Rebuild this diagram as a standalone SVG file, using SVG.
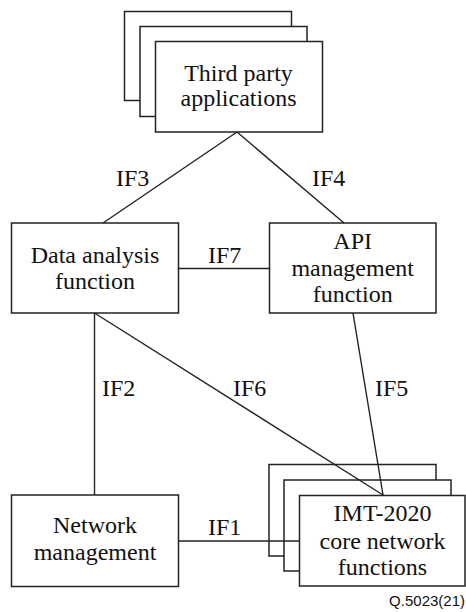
<svg xmlns="http://www.w3.org/2000/svg" width="466" height="612" viewBox="0 0 466 612">
<style>
.box{fill:#fff;stroke:#222;stroke-width:1.5}
.ln{stroke:#222;stroke-width:1.4;fill:none}
.t{font-size:24px;fill:#111;text-anchor:middle}
.lbl{font-size:24px;fill:#111}
.ref{font-size:15px;fill:#111;text-anchor:end}
</style>
<rect width="466" height="612" fill="#fff"/>
<g font-family="'Liberation Serif', 'Times New Roman', Tinos, 'DejaVu Serif', serif">
<g id="third-party">
<rect class="box" x="124.5" y="11.5" width="167" height="89"/>
<rect class="box" x="140" y="26.5" width="167" height="90"/>
<rect class="box" x="155.5" y="41.5" width="167" height="90.5"/>
<text class="t" x="238.5" y="81">Third party</text>
<text class="t" x="238.5" y="106">applications</text>
</g>
<g id="data-analysis">
<rect class="box" x="11.5" y="223" width="167" height="90"/>
<text class="t" x="95" y="263">Data analysis</text>
<text class="t" x="95" y="289">function</text>
</g>
<g id="api-management">
<rect class="box" x="269.5" y="223" width="166.5" height="90"/>
<text class="t" x="352.7" y="249">API</text>
<text class="t" x="352.7" y="275.5">management</text>
<text class="t" x="352.7" y="301.5">function</text>
</g>
<g id="network-management">
<rect class="box" x="11.5" y="495" width="167" height="91.5"/>
<text class="t" x="95" y="533">Network</text>
<text class="t" x="95" y="560">management</text>
</g>
<g id="imt-2020">
<rect class="box" x="269" y="464.5" width="167" height="91.5"/>
<rect class="box" x="284" y="480" width="167" height="91"/>
<rect class="box" x="299.5" y="495.5" width="165.5" height="90.5"/>
<text class="t" x="382.5" y="521">IMT-2020</text>
<text class="t" x="382.5" y="548.5">core network</text>
<text class="t" x="382.5" y="575">functions</text>
</g>
<g id="connectors">
<line class="ln" x1="237" y1="132" x2="103" y2="223"/>
<line class="ln" x1="237" y1="132" x2="344" y2="223"/>
<line class="ln" x1="178" y1="268.5" x2="269" y2="268.5"/>
<line class="ln" x1="94.5" y1="313" x2="94.5" y2="495"/>
<line class="ln" x1="94.5" y1="313" x2="383" y2="495"/>
<line class="ln" x1="353" y1="313" x2="383" y2="495"/>
<line class="ln" x1="178" y1="541" x2="299.5" y2="541"/>
<text class="lbl" x="116" y="186">IF3</text>
<text class="lbl" x="312" y="186">IF4</text>
<text class="lbl" x="208" y="263">IF7</text>
<text class="lbl" x="102" y="396">IF2</text>
<text class="lbl" x="233" y="396">IF6</text>
<text class="lbl" x="375" y="396">IF5</text>
<text class="lbl" x="208" y="535">IF1</text>
</g>
</g>
<text class="ref" x="465" y="606" font-family="'Liberation Sans', Arial, sans-serif">Q.5023(21)</text>
</svg>
